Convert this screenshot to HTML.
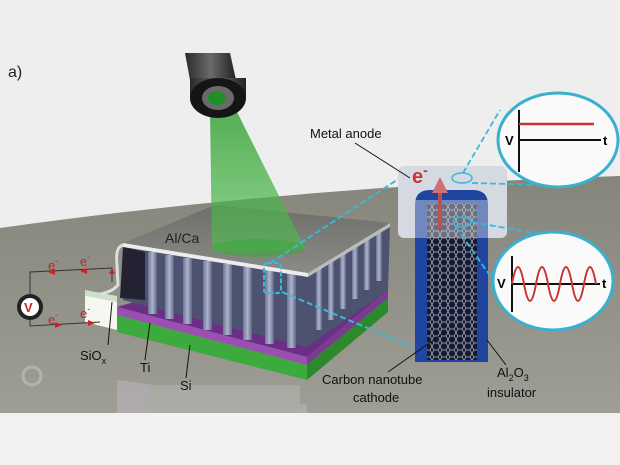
<!DOCTYPE html><html><head><style>body{margin:0;background:#eee}svg{display:block}text{font-family:"Liberation Sans",sans-serif}</style></head><body>
<svg width="620" height="465" viewBox="0 0 620 465">
<defs>
<linearGradient id="cone" x1="0" y1="0" x2="0" y2="1"><stop offset="0" stop-color="#3aa33a" stop-opacity=".85"/><stop offset="1" stop-color="#4fbf4f" stop-opacity=".6"/></linearGradient>
<linearGradient id="floor" x1="0" y1="0" x2="0" y2="1"><stop offset="0" stop-color="#85857b"/><stop offset="1" stop-color="#9e9e96"/></linearGradient>
<linearGradient id="cyl" x1="0" y1="0" x2="1" y2="0"><stop offset="0" stop-color="#2a2a2a"/><stop offset=".5" stop-color="#6a6a6a"/><stop offset="1" stop-color="#222"/></linearGradient>
<pattern id="hex" width="8" height="7" patternUnits="userSpaceOnUse"><path d="M0,3.5 L2,0 L6,0 L8,3.5 L6,7 L2,7 Z" fill="none" stroke="#bbb" stroke-width=".7"/></pattern>
<linearGradient id="pil" x1="0" y1="0" x2="1" y2="0"><stop offset="0" stop-color="#6d7698"/><stop offset=".5" stop-color="#aeb4cc"/><stop offset="1" stop-color="#5d6584"/></linearGradient>
<linearGradient id="plate" x1="0" y1="0" x2="0" y2="1"><stop offset="0" stop-color="#6e6e6a"/><stop offset="1" stop-color="#8a8a86"/></linearGradient>
</defs>
<rect width="620" height="465" fill="#eeeeee"/>
<path d="M0,228 Q300,186 620,176 L620,413 L0,413 Z" fill="url(#floor)"/>
<rect x="0" y="413" width="620" height="52" fill="#f1f1f1"/>
<text x="8" y="77" font-size="16" fill="#222">a)</text>
<g opacity=".3"><polygon points="117,380 307,405 307,413 117,413" fill="#d8c8e0"/><rect x="150" y="385" width="150" height="28" fill="#ccc"/><circle cx="32" cy="376" r="9" fill="none" stroke="#eee" stroke-width="3"/></g>
<polygon points="117,307 210,280 388,290 307,357" fill="#6a2f85"/>
<polygon points="117,307 307,357 307,365 117,315" fill="#9b4fb2"/>
<polygon points="307,357 388,290 388,298 307,365" fill="#7a3a90"/>
<polygon points="117,315 307,365 307,380 117,332" fill="#3daa3d"/>
<polygon points="307,365 388,298 388,312 307,380" fill="#2c8a2c"/>
<polygon points="85,292 117,300 117,330 85,322" fill="#f7f7f2"/>
<polygon points="85,290 117,296 117,302 85,296" fill="#cfe0c8"/>
<polygon points="123,245 215,207 390,225 388,290 307,347 123,300" fill="#4d5270"/>
<g fill="url(#pil)">
<rect x="148" y="252" width="9" height="62"/><rect x="165" y="255" width="9" height="64"/><rect x="183" y="258" width="9" height="66"/><rect x="203" y="261" width="9" height="69"/><rect x="223" y="264" width="9" height="71"/><rect x="243" y="267" width="9" height="73"/><rect x="265" y="270" width="9" height="74"/><rect x="287" y="272" width="9" height="76"/>
<rect x="316" y="268" width="6" height="62"/><rect x="328" y="260" width="6" height="60"/><rect x="340" y="252" width="6" height="57"/><rect x="352" y="245" width="6" height="54"/><rect x="364" y="238" width="6" height="52"/><rect x="376" y="231" width="6" height="50"/>
</g>
<path d="M123,245 Q115,247 117,265 L118,285 Q112,292 100,294" fill="none" stroke="#ddd" stroke-width="3"/>
<polygon points="123,247 145,252 145,300 120,298" fill="#222233"/>
<polygon points="123,243 215,205 390,223 308,273" fill="url(#plate)"/>
<polygon points="123,243 308,273 308,277 123,247" fill="#ececec"/>
<polygon points="308,273 390,223 390,227 308,277" fill="#bbb"/>
<!-- cone -->
<polygon points="210,110 236,110 306,250 212,252" fill="url(#cone)"/>
<ellipse cx="258" cy="248" rx="46" ry="9" fill="#3da83d" opacity=".6"/>
<!-- light source -->
<polygon points="185,53 230,53 236,80 190,80" fill="url(#cyl)"/>
<rect x="190" y="78" width="56" height="20" fill="url(#cyl)"/>
<ellipse cx="218" cy="98" rx="28" ry="20" fill="#151515"/>
<ellipse cx="218" cy="98" rx="16" ry="12" fill="#6a6a6a"/>
<ellipse cx="217" cy="98" rx="9" ry="7" fill="#1f8f2a"/>
<text x="165" y="243" font-size="14" fill="#222">Al/Ca</text>
<path d="M30,295 L30,272 L112,268 L112,282 M30,320 L30,326 L100,322" fill="none" stroke="#333" stroke-width="1"/>
<circle cx="30" cy="307" r="13" fill="#222"/><circle cx="30" cy="307" r="9" fill="#fff"/><text x="24" y="312" font-size="13" font-weight="bold" fill="#c22">V</text>
<g fill="#c22" font-size="13"><text x="48" y="270">e<tspan dy="-6" font-size="9">-</tspan></text><text x="80" y="266">e<tspan dy="-6" font-size="9">-</tspan></text><text x="48" y="324">e<tspan dy="-6" font-size="9">-</tspan></text><text x="80" y="318">e<tspan dy="-6" font-size="9">-</tspan></text>
<path d="M48,272 l7,-3 v6z M80,271 l7,-3 v6z M62,325 l-7,-3 v6z M95,323 l-7,-3 v6z M112,268 l-3,6 h6z"/></g>
<g font-size="13" fill="#111"><text x="80" y="360">SiO<tspan dy="4" font-size="9">x</tspan></text><text x="140" y="372">Ti</text><text x="180" y="390">Si</text></g>
<path d="M108,345 L112,302 M145,360 L150,323 M186,378 L190,345" stroke="#111"/>
<rect x="264" y="263" width="17" height="30" rx="3" fill="none" stroke="#3bb8d8" stroke-width="2" stroke-dasharray="5,2"/>
<path d="M270,263 L400,178 M282,292 L415,348" stroke="#3bb8d8" stroke-width="2" stroke-dasharray="6,3"/>
<rect x="398" y="166" width="109" height="72" rx="6" fill="#d5dae2"/>
<path d="M415,362 L415,205 Q415,190 430,190 L473,190 Q488,190 488,205 L488,362 Z" fill="#1f45a0"/>
<rect x="427" y="203" width="50" height="157" fill="#141a35"/>
<rect x="427" y="203" width="50" height="157" fill="url(#hex)"/>
<rect x="415" y="200" width="73" height="38" fill="#d5dae2" opacity=".45"/>
<path d="M440,230 L440,190" stroke="#c0504d" stroke-width="4"/><path d="M432,193 L440,177 L448,193 Z" fill="#d07070"/>
<text x="412" y="183" font-size="20" font-weight="bold" fill="#c33">e<tspan dy="-8" font-size="14">-</tspan></text>
<text x="310" y="138" font-size="13" fill="#111">Metal anode</text>
<path d="M355,143 L410,178" stroke="#111"/>
<ellipse cx="462" cy="178" rx="10" ry="5" fill="none" stroke="#3bb8d8" stroke-width="1.5"/>
<ellipse cx="462" cy="222" rx="9" ry="5" fill="none" stroke="#3bb8d8" stroke-width="1.5"/>
<path d="M463,173 L500,110 M472,183 L545,185 M472,222 L550,236 M456,227 L500,290" stroke="#3bb8d8" stroke-width="1.8" stroke-dasharray="6,3"/>
<ellipse cx="558" cy="140" rx="60" ry="47" fill="#fafafa" stroke="#39b0cf" stroke-width="3"/>
<path d="M519,110 L519,172 M519,140 L601,140" stroke="#111" stroke-width="2"/><path d="M519,124 L594,124" stroke="#c33" stroke-width="2.5"/>
<text x="505" y="145" font-size="13" font-weight="bold">V</text><text x="603" y="145" font-size="13" font-weight="bold">t</text>
<ellipse cx="553" cy="281" rx="60" ry="49" fill="#fafafa" stroke="#39b0cf" stroke-width="3"/>
<path d="M512,256 L512,312 M512,284 L600,284" stroke="#111" stroke-width="2"/>
<path d="M512,284 Q518,250 524,284 T536,284 T548,284 T560,284 T572,284 T584,284 T596,284" fill="none" stroke="#c33" stroke-width="2"/>
<text x="497" y="288" font-size="13" font-weight="bold">V</text><text x="602" y="288" font-size="13" font-weight="bold">t</text>
<path d="M388,372 L445,332 M487,340 L506,365" stroke="#111"/>
<g font-size="13" fill="#111"><text x="322" y="384">Carbon nanotube</text><text x="353" y="402">cathode</text>
<text x="497" y="377">Al<tspan dy="4" font-size="9">2</tspan><tspan dy="-4">O</tspan><tspan dy="4" font-size="9">3</tspan></text><text x="487" y="397">insulator</text></g>
</svg></body></html>
